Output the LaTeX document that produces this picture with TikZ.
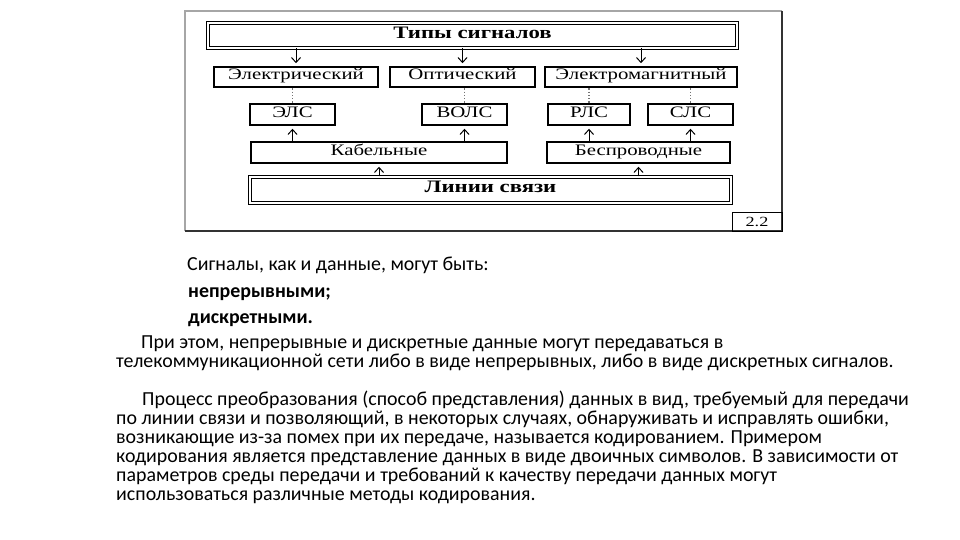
\documentclass[tikz,border=0pt]{standalone}
\usepackage{fontspec}
\setmainfont{Carlito}
\newfontfamily\diagfont[FakeStretch=1.3]{Liberation Serif}
\usetikzlibrary{arrows.meta}

\begin{document}
\begin{tikzpicture}[x=1pt, y=-1pt, font=\diagfont\fontsize{16}{18}\selectfont]
    % Define styles
    \tikzstyle{headbox} = [rectangle, inner sep=0pt, text height=1.5ex, text depth=.25ex, text centered, draw=black, double, double distance=1.8pt, line width=1pt, font=\diagfont\bfseries\fontsize{17.5}{19}\selectfont]
    \tikzstyle{kindbox} = [rectangle, inner sep=0pt, minimum height=20pt, text height=1.5ex, text depth=.25ex, text centered, draw=black, line width=2.5pt]
    \tikzstyle{arrow} = [line width=1pt, ->, >={Straight Barb[length=5pt,width=9pt]}, shorten >=2.5pt]
    \tikzstyle{dotline} = [line width=1.3pt, black!55, dotted]
    \tikzstyle{bodytext} = [anchor=base west, inner sep=0pt, font=\fontsize{19.9}{21}\selectfont]
    \tikzstyle{boldtext} = [anchor=base west, inner sep=0pt, font=\bfseries\fontsize{19.9}{21}\selectfont]

    \useasboundingbox (0,0) rectangle (960,540);

    % Frame
    \draw [line width=2pt, black!35] (185,231) -- (185,11) -- (782,11);
    \draw [line width=1.5pt, black!80] (782,11) -- (782,231) -- (185,231);
    \node (fig_label) [rectangle, draw=black, line width=0.8pt, minimum width=50pt, minimum height=19pt, inner sep=0pt, font=\diagfont\fontsize{14}{15}\selectfont] at (757,221.5) {2.2};

    % Signal types
    \node (types) [headbox, minimum width=529pt, minimum height=25pt] at (472.5,35.5) {Типы сигналов};
    \node (electric) [kindbox, minimum width=164pt] at (296,77) {Электрический};
    \node (optical) [kindbox, minimum width=145pt] at (462.5,77) {Оптический};
    \node (emagnetic) [kindbox, minimum width=192pt] at (641,77) {Электромагнитный};

    % Line kinds
    \node (els) [kindbox, minimum width=85pt, minimum height=21pt] at (292.5,114.5) {ЭЛС};
    \node (vols) [kindbox, minimum width=85pt, minimum height=21pt] at (464.5,114.5) {ВОЛС};
    \node (rls) [kindbox, minimum width=82pt, minimum height=21pt] at (589,114.5) {РЛС};
    \node (sls) [kindbox, minimum width=85pt, minimum height=21pt] at (690.5,114.5) {СЛС};
    \node (cable) [kindbox, minimum width=256pt, minimum height=21pt] at (379,152.5) {Кабельные};
    \node (wireless) [kindbox, minimum width=183pt, minimum height=21pt] at (638.5,152.5) {Беспроводные};
    \node (lines) [headbox, minimum width=481pt, minimum height=26pt] at (490.5,190) {Линии связи};

    % Arrows
    \draw [arrow] (types.south -| electric.north) -- (electric.north);
    \draw [arrow] (types.south -| optical.north) -- (optical.north);
    \draw [arrow] (types.south -| emagnetic.north) -- (emagnetic.north);
    \draw [dotline] (electric.south -| els.north) -- (els.north);
    \draw [dotline] (optical.south -| vols.north) -- (vols.north);
    \draw [dotline] (emagnetic.south -| rls.north) -- (rls.north);
    \draw [dotline] (emagnetic.south -| sls.north) -- (sls.north);
    \draw [arrow] (cable.north -| els.south) -- (els.south);
    \draw [arrow] (cable.north -| vols.south) -- (vols.south);
    \draw [arrow] (wireless.north -| rls.south) -- (rls.south);
    \draw [arrow] (wireless.north -| sls.south) -- (sls.south);
    \draw [arrow] (lines.north -| cable.south) -- (cable.south);
    \draw [arrow] (lines.north -| wireless.south) -- (wireless.south);

    % Text
    \node (sig_intro) [bodytext] at (187,270) {Сигналы, как и данные, могут быть:};
    \node (sig_cont) [boldtext] at (188,297) {непрерывными;};
    \node (sig_disc) [boldtext] at (188,323) {дискретными.};
    \node (par_one_a) [bodytext] at (141,348) {При этом, непрерывные и дискретные данные могут передаваться в};
    \node (par_one_b) [bodytext] at (116,367) {телекоммуникационной сети либо в виде непрерывных, либо в виде дискретных сигналов.};
    \node (par_two_a) [bodytext] at (142,405) {Процесс преобразования (способ представления) данных в вид, требуемый для передачи};
    \node (par_two_b) [bodytext] at (116,424) {по линии связи и позволяющий, в некоторых случаях, обнаруживать и исправлять ошибки,};
    \node (par_two_c) [bodytext] at (116,443) {возникающие из-за помех при их передаче, называется кодированием. Примером};
    \node (par_two_d) [bodytext] at (116,462) {кодирования является представление данных в виде двоичных символов. В зависимости от};
    \node (par_two_e) [bodytext] at (116,481) {параметров среды передачи и требований к качеству передачи данных могут};
    \node (par_two_f) [bodytext] at (116,500) {использоваться различные методы кодирования.};
\end{tikzpicture}
\end{document}
